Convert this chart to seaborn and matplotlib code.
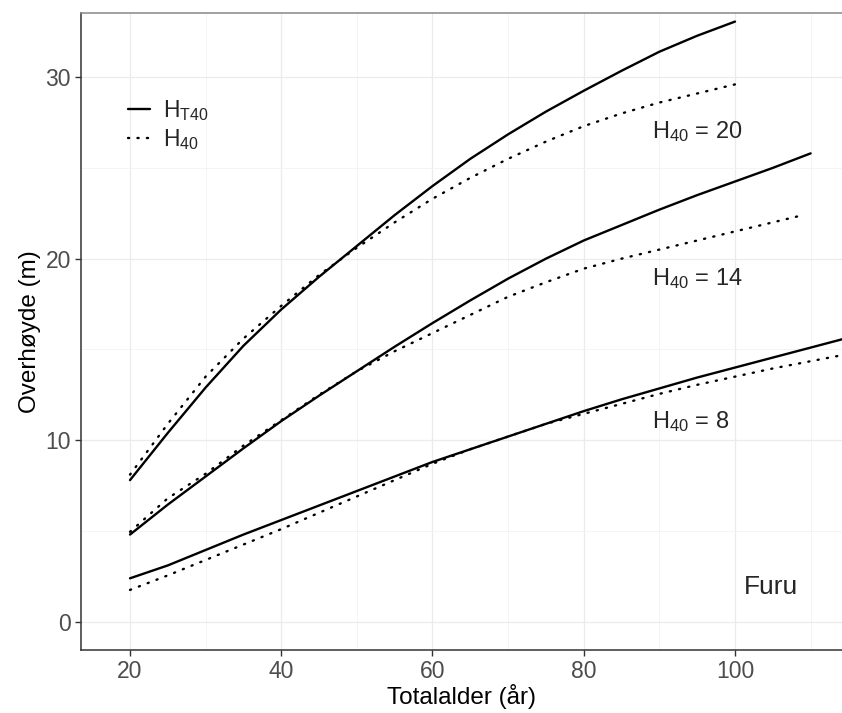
import numpy as np
import pandas as pd
import matplotlib
matplotlib.use('Agg')
import matplotlib.pyplot as plt
from matplotlib.lines import Line2D
from matplotlib.ticker import MultipleLocator
import seaborn as sns

# Totalalder (år) og overhøyde (m) for de tre bonitetskurvene, furu
alder_20 = [20, 25, 30, 35, 40, 45, 50, 55, 60, 65, 70, 75, 80, 85, 90, 95, 100]
ht40_20 = [7.8, 10.4, 12.9, 15.2, 17.2, 19.0, 20.7, 22.4, 24.0, 25.5, 26.85, 28.1, 29.25, 30.35, 31.4, 32.28, 33.06]
h40_20 = [8.1, 10.9, 13.5, 15.6, 17.4, 19.1, 20.6, 22.0, 23.3, 24.45, 25.5, 26.45, 27.3, 28.0, 28.6, 29.1, 29.6]

alder_14_ht = [20, 25, 30, 35, 40, 45, 50, 55, 60, 65, 70, 75, 80, 85, 90, 95, 100, 105, 110]
ht40_14 = [4.8, 6.45, 8.0, 9.55, 11.05, 12.45, 13.8, 15.15, 16.45, 17.7, 18.9, 20.0, 21.0, 21.85, 22.7, 23.5, 24.25, 25.0, 25.8]
alder_14_h = [20, 25, 30, 35, 40, 45, 50, 55, 60, 65, 70, 75, 80, 85, 90, 95, 100, 105, 109]
h40_14 = [4.95, 6.8, 8.15, 9.7, 11.1, 12.5, 13.8, 14.9, 15.9, 16.9, 17.9, 18.7, 19.45, 20.0, 20.5, 21.0, 21.5, 22.0, 22.4]

alder_8 = [20, 25, 30, 35, 40, 45, 50, 55, 60, 65, 70, 75, 80, 85, 90, 95, 100, 105, 110, 115]
ht40_8 = [2.39, 3.1, 3.95, 4.8, 5.6, 6.4, 7.2, 8.0, 8.8, 9.5, 10.2, 10.9, 11.6, 12.25, 12.85, 13.45, 14.0, 14.55, 15.1, 15.65]
h40_8 = [1.75, 2.55, 3.4, 4.25, 5.1, 6.0, 6.9, 7.8, 8.7, 9.5, 10.2, 10.9, 11.45, 12.0, 12.55, 13.05, 13.5, 13.95, 14.35, 14.75]

bonitet = [20, 14, 8]
etikett_y = [27.0, 18.9, 11.0]
etikett_x = 89

kurver = [
    (alder_20, ht40_20, 'HT40'), (alder_20, h40_20, 'H40'),
    (alder_14_ht, ht40_14, 'HT40'), (alder_14_h, h40_14, 'H40'),
    (alder_8, ht40_8, 'HT40'), (alder_8, h40_8, 'H40'),
]

sns.set_theme(style='white')
plt.rcParams['font.family'] = ['Liberation Sans', 'DejaVu Sans']
plt.rcParams['mathtext.fontset'] = 'custom'
plt.rcParams['mathtext.rm'] = 'Liberation Sans'
plt.rcParams['mathtext.it'] = 'Liberation Sans:italic'
plt.rcParams['mathtext.bf'] = 'Liberation Sans:bold'

fig = plt.figure(figsize=(8.42, 7.13), dpi=100)
ax = fig.add_axes([80.7 / 842, 63 / 713, (842 - 80.7) / 842, (650 - 12.7) / 713])

prikk = (0, (0.5, 3.5))
for x, y, typ in kurver:
    ls = '-' if typ == 'HT40' else prikk
    sns.lineplot(x=x, y=y, ax=ax, color='black', linewidth=1.7,
                 linestyle=ls, dash_capstyle='round', sort=True)

for b, yy in zip(bonitet, etikett_y):
    ax.text(etikett_x, yy, f'H$_{{40}}$ = {b}', fontsize=17, ha='left', va='center')

ax.text(104.8, 1.9, 'Furu', fontsize=19, ha='center', va='center')

ax.set_xlim(13.48, 114.15)
ax.set_ylim(-1.56, 33.55)
ax.xaxis.set_major_locator(MultipleLocator(20))
ax.xaxis.set_minor_locator(MultipleLocator(10))
ax.yaxis.set_major_locator(MultipleLocator(10))
ax.yaxis.set_minor_locator(MultipleLocator(5))
ax.grid(which='major', color='#EBEBEB', linewidth=0.9)
ax.grid(which='minor', color='#F2F2F2', linewidth=0.6)
ax.set_axisbelow(True)

ax.tick_params(axis='both', which='major', length=4, width=1, color='#333333',
               labelsize=16.5, labelcolor='#4D4D4D', pad=3, bottom=True, left=True)
ax.tick_params(axis='both', which='minor', length=0)

ax.set_xlabel('Totalalder (år)', fontsize=17.5, color='black', labelpad=1)
ax.set_ylabel('Overhøyde (m)', fontsize=17.5, color='black', labelpad=3)

for side in ['left', 'bottom']:
    ax.spines[side].set_color('#333333')
    ax.spines[side].set_linewidth(1.1)
ax.spines['top'].set_color('#888888')
ax.spines['top'].set_linewidth(1.1)
ax.spines['right'].set_visible(False)

handles = [Line2D([], [], color='black', linewidth=1.7, linestyle='-'),
           Line2D([], [], color='black', linewidth=1.7, linestyle=prikk, dash_capstyle='round')]
ax.legend(handles, [r'H$_{\mathrm{T40}}$', r'H$_{40}$'], loc='upper left',
          bbox_to_anchor=(0.05, 0.88), frameon=False, fontsize=16.5,
          handlelength=0.95, handletextpad=0.6, labelspacing=0.15, borderaxespad=0)

fig.savefig('out.png', dpi=100)
